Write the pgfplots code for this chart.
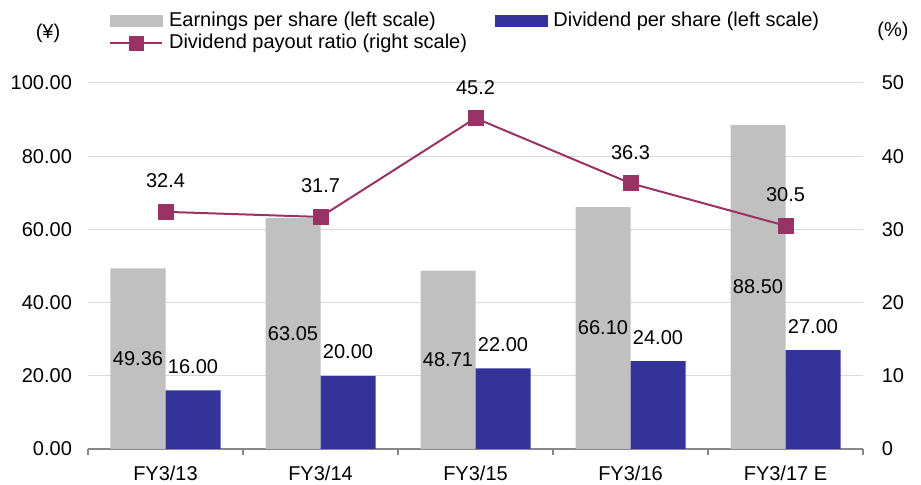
\documentclass[border=0pt]{standalone}
\usepackage{fontspec}
\setmainfont{Liberation Sans}
\usepackage{pgfplots}
\pgfplotsset{compat=1.18, /pgf/number format/assume math mode=true}
\definecolor{epsgray}{HTML}{C0C0C0}
\definecolor{divblue}{HTML}{333399}
\definecolor{payout}{HTML}{993366}
\definecolor{gridgray}{HTML}{D9D9D9}
\definecolor{axisgray}{HTML}{888888}

\begin{document}
\fontsize{20bp}{24bp}\selectfont
\begin{tikzpicture}
\path[use as bounding box] (0,0) rectangle (921bp,485bp);
\begin{axis}[
  at={(88bp,36bp)}, anchor=south west,
  scale only axis, width=775bp, height=366bp,
  xmin=-0.5, xmax=4.5, ymin=0, ymax=100,
  ybar, bar width=55bp,
  axis x line*=bottom, axis y line*=left,
  y axis line style={draw=none},
  x axis line style={draw=axisgray, line width=2bp, -},
  xtick={0,1,2,3,4},
  xticklabels={FY3/13,FY3/14,FY3/15,FY3/16,FY3/17 E},
  xticklabel style={yshift=-6bp},
  major x tick style={draw=none},
  minor xtick={-0.5,0.5,1.5,2.5,3.5,4.5},
  minor tick length=6bp,
  minor x tick style={draw=axisgray, line width=1.5bp},
  tick align=outside,
  ytick={0,20,...,100},
  yticklabels={0.00,20.00,40.00,60.00,80.00,100.00},
  yticklabel style={xshift=-5bp},
  major y tick style={draw=none},
  ymajorgrids, major grid style={gridgray, line width=1bp},
  legend columns=2,
  legend cell align=left,
  legend style={at={(rel axis cs:0.027,1.2)}, anchor=north west,
    draw=none, fill=none, inner sep=0pt, row sep=1bp,
    /tikz/every odd column/.append style={column sep=4bp},
    /tikz/every even column/.append style={column sep=26bp}},
]
\addplot[fill=epsgray, draw=none, bar shift=-27.5bp, forget plot]
  coordinates {(0,49.36)(1,63.05)(2,48.71)(3,66.10)(4,88.50)};
\addplot[fill=divblue, draw=none, bar shift=27.5bp, forget plot,
  nodes near coords={\pgfmathprintnumber[fixed,fixed zerofill,precision=2]{\pgfplotspointmeta}},
  nodes near coords style={anchor=center, yshift=24bp, text=black}]
  coordinates {(0,16)(1,20)(2,22)(3,24)(4,27)};
\node at (axis cs:0,24.68) [xshift=-27.5bp] {49.36};
\node at (axis cs:1,31.525) [xshift=-27.5bp] {63.05};
\node at (axis cs:2,24.355) [xshift=-27.5bp] {48.71};
\node at (axis cs:3,33.05) [xshift=-27.5bp] {66.10};
\node at (axis cs:4,44.25) [xshift=-27.5bp] {88.50};
\addlegendimage{legend image code/.code={\fill[epsgray] (0bp,-5.5bp) rectangle (52bp,5.5bp);}}
\addlegendentry{Earnings per share (left scale)}
\addlegendimage{legend image code/.code={\fill[divblue] (0bp,-5.5bp) rectangle (52bp,5.5bp);}}
\addlegendentry{Dividend per share (left scale)}
\addlegendimage{legend image code/.code={\draw[payout, line width=2bp] (0bp,0bp) -- (52bp,0bp); \fill[payout] (19bp,-7bp) rectangle (33bp,7bp);}}
\addlegendentry{Dividend payout ratio (right scale)}
\end{axis}
\begin{axis}[
  at={(88bp,36bp)}, anchor=south west,
  scale only axis, width=775bp, height=366bp,
  xmin=-0.5, xmax=4.5, ymin=0, ymax=50,
  axis x line=none, axis y line*=right,
  y axis line style={draw=none},
  ytick={0,10,...,50},
  yticklabel style={xshift=12bp},
  major y tick style={draw=none},
]
\addplot[payout, line width=2bp, mark=square*,
  mark options={fill=payout, draw=none, scale=1}, mark size=7bp,
  nodes near coords={\pgfmathprintnumber[fixed,fixed zerofill,precision=1]{\pgfplotspointmeta}},
  nodes near coords style={anchor=center, yshift=31bp, text=black}]
  coordinates {(0,32.4)(1,31.7)(2,45.2)(3,36.3)(4,30.5)};
\end{axis}
\node at (48bp,452bp) {(¥)};
\node at (893bp,454bp) {(\%)};
\end{tikzpicture}
\end{document}
